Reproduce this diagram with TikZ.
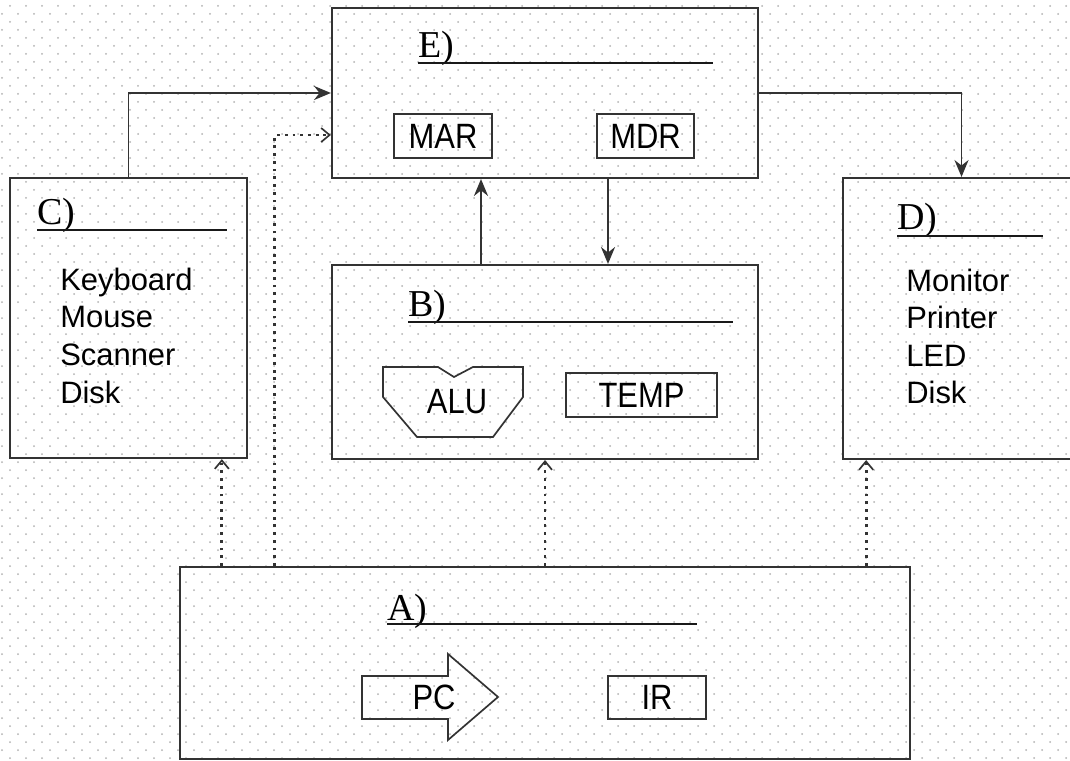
\documentclass[tikz,border=0pt]{standalone}
\usepackage{fontspec}
\setmainfont{Liberation Serif}
\newfontfamily\listfont{Liberation Sans}
\newfontfamily\regfont[FakeStretch=0.88]{Liberation Sans}
\usetikzlibrary{arrows.meta,calc}
\tikzset{
  box/.style={draw=black!80, line width=1.5pt, inner sep=0pt},
  reg/.style={draw=black!80, line width=1.2pt, inner sep=0pt, font=\regfont\fontsize{25}{30}\selectfont},
  regtext/.style={inner sep=0pt, font=\regfont\fontsize{25}{30}\selectfont},
  lbl/.style={inner sep=0pt, anchor=base west, font=\fontsize{27}{32}\selectfont},
  item/.style={inner sep=0pt, anchor=base west, font=\listfont\fontsize{22}{26}\selectfont},
  uline/.style={line width=1.3pt, draw=black!90},
  shapeline/.style={line width=1.2pt, draw=black!80},
  conn/.style={line width=1.1pt, draw=black!80, -{Stealth[length=12pt,width=10pt]}},
  dconn/.style={line width=2pt, draw=black!80, dash pattern=on 2pt off 3.5pt,
    -{Straight Barb[length=6pt,width=10pt,line width=1.2pt]}},
  griddot/.style={fill=black!30},
}
\begin{document}
\begin{tikzpicture}[x=0.025cm,y=-0.025cm]
\useasboundingbox (0,0) rectangle (1070,761);
\clip (0,0) rectangle (1070,761);
\fill[white] (0,0) rectangle (1070,761);
% background dot grid
\foreach \j in {0,...,47}{
  \fill[griddot] \foreach \i in {0,...,67}{ (16*\i+2,16*\j+14) circle[radius=1] };
  \fill[griddot] \foreach \i in {0,...,67}{ (16*\i+10,16*\j+6) circle[radius=1] };
}
% main boxes
\node[box, minimum width=10.65cm, minimum height=4.25cm] (E) at (545,93) {};
\node[box, minimum width=5.925cm, minimum height=7cm] (C) at (128.5,318) {};
\node[box, minimum width=10.65cm, minimum height=4.85cm] (B) at (545,362) {};
\node[box, minimum width=5.925cm, minimum height=7.025cm] (D) at (961.5,318.5) {};
\node[box, minimum width=18.25cm, minimum height=4.8cm] (A) at (545,663) {};
% titles with blank lines
\node[lbl] (Elbl) at (418,58) {E)};
\draw[uline] ($(Elbl.base west)+(0,5)$) -- ++(295,0);
\node[lbl] (Clbl) at (37,225) {C)};
\draw[uline] ($(Clbl.base west)+(0,5)$) -- ++(190,0);
\node[lbl] (Blbl) at (408,316) {B)};
\draw[uline] ($(Blbl.base west)+(0,6)$) -- ++(325,0);
\node[lbl] (Dlbl) at (897,230) {D)};
\draw[uline] ($(Dlbl.base west)+(0,6)$) -- ++(146,0);
\node[lbl] (Albl) at (387,620) {A)};
\draw[uline] ($(Albl.base west)+(0,4)$) -- ++(310,0);
% E registers
\node[reg, minimum width=2.45cm, minimum height=1.1cm] (MAR) at (443,136) {MAR};
\node[reg, minimum width=2.425cm, minimum height=1.1cm] (MDR) at (645.5,136) {MDR};
% B contents
\draw[shapeline] (383,367) -- (438,367) -- (454,377) -- (473,367) -- (523,367)
  -- (523,397) -- (493,437) -- (417,437) -- (383,397) -- cycle;
\node[regtext] (ALU) at (457,402) {ALU};
\node[reg, minimum width=3.775cm, minimum height=1.1cm] (TEMP) at (641.5,395) {TEMP};
% C list
\node[item] (c1) at (60,290) {Keyboard};
\node[item] (c2) at (60,327) {Mouse};
\node[item] (c3) at (60,365) {Scanner};
\node[item] (c4) at (60,403) {Disk};
% D list
\node[item] (d1) at (906,291) {Monitor};
\node[item] (d2) at (906,328) {Printer};
\node[item] (d3) at (906,366) {LED};
\node[item] (d4) at (906,403) {Disk};
% A contents
\draw[shapeline] (362,676) -- (448,676) -- (448,654) -- (498,697) -- (448,740)
  -- (448,719) -- (362,719) -- cycle;
\node[regtext] (PC) at (434,697) {PC};
\node[reg, minimum width=2.45cm, minimum height=1.075cm] (IR) at (657,697.5) {IR};
% solid connectors
\draw[conn] (C.north) |- (E.west);
\draw[conn] (E.east) -| (D.north);
\draw[conn] ($(B.north)+(-64,0)$) -- ($(E.south)+(-64,0)$);
\draw[conn] ($(E.south)+(63,0)$) -- ($(B.north)+(63,0)$);
% dotted connectors
\coordinate (a1) at ($(A.north west)+(43,0)$);
\coordinate (a2) at ($(A.north west)+(96,0)$);
\coordinate (a4) at ($(A.north east)+(-45,0)$);
\draw[dconn] (a1) -- (a1 |- C.south);
\draw[dconn] (a2) |- ($(E.west)+(0,42)$);
\draw[dconn] (A.north) -- (B.south);
\draw[dconn] (a4) -- (a4 |- D.south);
\end{tikzpicture}
\end{document}
